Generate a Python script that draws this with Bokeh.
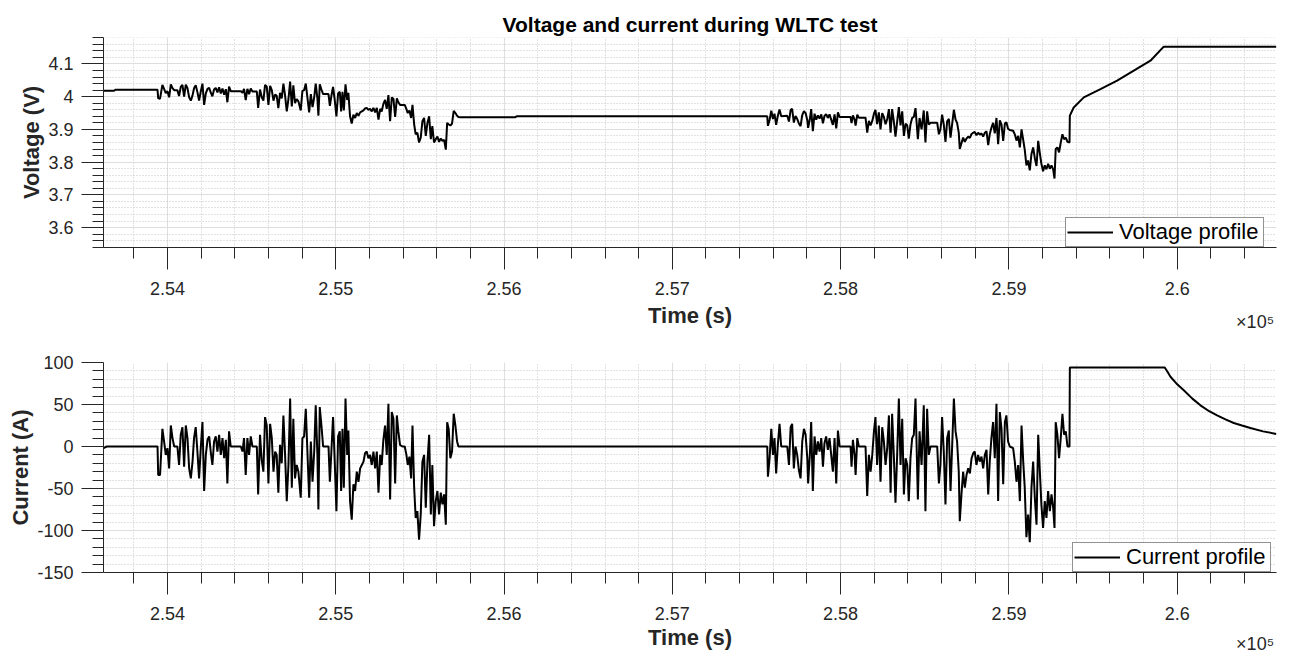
from bokeh.plotting import figure
from bokeh.models import Range1d, FixedTicker, Legend, LegendItem, LinearAxis
from bokeh.layouts import column
from bokeh.embed import file_html
from bokeh.resources import INLINE

# ---------------- data ----------------
TIME_S = [
    253620, 253640, 253683, 253690, 253941, 253945, 253956, 253970, 253980, 253990,
    254000, 254010, 254020, 254030, 254040, 254059, 254069, 254079, 254089, 254099,
    254109, 254119, 254129, 254139, 254149, 254158, 254168, 254178, 254188, 254198,
    254208, 254218, 254228, 254238, 254248, 254257, 254267, 254277, 254287, 254297,
    254307, 254317, 254327, 254337, 254347, 254356, 254366, 254376, 254436, 254446,
    254455, 254465, 254475, 254485, 254495, 254505, 254531, 254539, 254550, 254560,
    254570, 254580, 254590, 254600, 254610, 254620, 254630, 254640, 254649, 254659,
    254669, 254679, 254689, 254699, 254709, 254719, 254729, 254739, 254748, 254758,
    254768, 254778, 254792, 254802, 254812, 254822, 254842, 254852, 254862, 254872,
    254881, 254891, 254897, 254905, 254915, 254925, 254957, 254965, 254974, 254984,
    254994, 255004, 255014, 255024, 255032, 255040, 255048, 255058, 255068, 255075,
    255085, 255095, 255105, 255115, 255125, 255135, 255145, 255155, 255165, 255174,
    255184, 255194, 255204, 255214, 255224, 255234, 255244, 255254, 255264, 255273,
    255283, 255293, 255303, 255313, 255323, 255333, 255343, 255353, 255363, 255372,
    255382, 255396, 255410, 255420, 255428, 255438, 255448, 255456, 255466, 255475,
    255485, 255495, 255505, 255515, 255525, 255535, 255545, 255555, 255565, 255574,
    255584, 255594, 255604, 255614, 255624, 255634, 255644, 255654, 255662, 255671,
    255681, 255691, 255701, 255711, 255721, 255729, 255740, 256065, 256075, 257564,
    257568, 257578, 257588, 257598, 257607, 257617, 257627, 257637, 257647, 257683,
    257693, 257703, 257712, 257722, 257732, 257742, 257752, 257762, 257772, 257782,
    257792, 257802, 257807, 257817, 257825, 257835, 257845, 257855, 257865, 257875,
    257885, 257895, 257904, 257914, 257924, 257934, 257944, 257954, 257964, 257974,
    257984, 257994, 258059, 258065, 258073, 258083, 258089, 258099, 258108, 258148,
    258158, 258168, 258178, 258188, 258198, 258207, 258217, 258227, 258237, 258247,
    258257, 258267, 258277, 258287, 258297, 258306, 258316, 258326, 258336, 258346,
    258356, 258366, 258376, 258386, 258396, 258405, 258415, 258425, 258435, 258445,
    258459, 258469, 258481, 258494, 258504, 258514, 258524, 258534, 258574, 258584,
    258593, 258603, 258613, 258623, 258633, 258643, 258653, 258663, 258673, 258683,
    258692, 258702, 258708, 258718, 258728, 258738, 258748, 258758, 258768, 258778,
    258788, 258797, 258807, 258817, 258827, 258837, 258847, 258857, 258867, 258877,
    258886, 258896, 258906, 258916, 258926, 258936, 258946, 258956, 258966, 258976,
    258985, 258995, 259005, 259025, 259035, 259045, 259055, 259065, 259075, 259085,
    259094, 259104, 259114, 259124, 259134, 259144, 259154, 259164, 259174, 259183,
    259193, 259203, 259213, 259223, 259233, 259243, 259253, 259263, 259271, 259278,
    259288, 259298, 259308, 259318, 259328, 259338, 259348, 259360, 259362, 259385,
    259445, 259544, 259643, 259742, 259841, 259920, 259926, 259945, 259960, 260000,
    260039, 260090, 260138, 260190, 260237, 260290, 260336, 260385, 260435, 260510, 260589,
]

CURRENT_A = [
    -2, 0, 0, 0, 0, -34, -34, 21, 6, -10,
    -2, -26, 25, 10, 0, 0, -22, 14, 23, -24,
    25, 10, -26, -38, -18, 10, 23, -6, -38, -2,
    29, -53, -10, 8, 12, -6, -22, 6, 12, -6,
    14, -10, 10, -14, 8, -44, 18, 0, 0, -6,
    10, -34, 10, -10, 12, 0, 0, -57, 14, -16,
    -30, 35, 25, -44, 27, 10, -30, -6, -10, -55,
    2, -20, 37, -10, -65, -22, 57, -49, 33, -38,
    -22, -30, -61, 10, 12, 45, -61, 6, -42, -6,
    49, -10, -75, 47, 25, 0, 0, -42, -6, 35,
    -18, -77, 12, 18, -53, 21, -49, 57, -10, 19,
    -65, -87, -45, -53, -30, -42, -26, -22, -18, -8,
    -6, -14, -10, -22, -6, -26, -6, -55, -10, -22,
    8, 25, -10, 51, -63, 41, 33, -44, 37, 18,
    2, 0, 0, -10, -22, -12, -38, 25, -49, -85,
    -77, -111, -81, -18, -10, -73, -18, 14, -81, -22,
    -95, -65, -53, -81, -55, -69, -57, -93, 29, 21,
    -14, -6, 39, 25, 6, 0, 0, 0, 0, 0,
    -36, -14, 21, -10, 10, -32, 2, 27, 0, 0,
    -22, 23, 27, -26, 0, -10, -28, -38, 6, 21,
    14, -14, -44, -10, 29, -53, 12, -10, 6, -6,
    10, -24, 4, 12, -4, 10, -10, -30, 10, -44,
    19, 0, 0, -24, 8, -10, -34, 10, 0, 0,
    -59, -10, -30, -10, 18, 35, -22, 25, -42, 23,
    6, -22, -2, 37, -55, 39, -10, -67, -10, 57,
    -22, 33, -57, -14, -22, -65, -14, 10, 14, 57,
    -63, 18, -22, 49, -77, 45, -10, 0, 0, -44,
    -22, 35, -6, -69, 10, 19, -53, 2, 57, 18,
    6, -30, -89, -57, -30, -49, -34, -26, -32, -14,
    -8, -6, -22, -10, -18, -12, -26, -10, -4, -57,
    -18, 10, 29, -14, 51, -65, 41, 21, -45, 29,
    37, 6, 0, -2, -18, -42, -22, -65, 25, -18,
    -49, -108, -81, -114, -49, -18, -61, -93, 14, -26,
    -69, -97, -65, -85, -53, -77, -57, -73, -97, 29,
    14, -14, 10, 39, 14, 18, 0, 0, 94, 94,
    94, 94, 94, 94, 94, 94, 94, 88, 83, 74,
    67, 57, 49, 42, 37, 32, 28, 25, 22, 18, 15,
]

VOLTAGE_V = [
    4.018, 4.018, 4.018, 4.021, 4.021, 3.995, 3.994, 4.036, 4.024, 4.011,
    4.017, 3.998, 4.038, 4.026, 4.020, 4.020, 4.002, 4.030, 4.036, 4.000,
    4.037, 4.026, 3.998, 3.988, 4.004, 4.026, 4.035, 4.014, 3.988, 4.016,
    4.040, 3.975, 4.010, 4.024, 4.027, 4.013, 4.001, 4.022, 4.027, 4.013,
    4.029, 4.010, 4.025, 4.006, 4.023, 3.983, 4.031, 4.017, 4.017, 4.012,
    4.024, 3.990, 4.024, 4.008, 4.025, 4.016, 4.016, 3.966, 4.022, 3.999,
    3.988, 4.036, 4.031, 3.975, 4.033, 4.020, 3.988, 4.007, 4.003, 3.965,
    4.012, 3.995, 4.040, 4.003, 3.955, 3.993, 4.046, 3.970, 4.035, 3.980,
    3.993, 3.986, 3.958, 4.018, 4.020, 4.040, 3.952, 4.008, 3.968, 3.998,
    4.040, 3.995, 3.942, 4.038, 4.022, 4.008, 4.008, 3.972, 4.002, 4.030,
    3.990, 3.940, 4.010, 4.015, 3.955, 4.015, 3.958, 4.038, 3.990, 4.012,
    3.940, 3.918, 3.945, 3.935, 3.950, 3.942, 3.952, 3.955, 3.958, 3.964,
    3.966, 3.960, 3.963, 3.955, 3.966, 3.952, 3.966, 3.930, 3.963, 3.955,
    3.978, 3.990, 3.963, 4.005, 3.925, 3.998, 3.993, 3.938, 3.995, 3.983,
    3.975, 3.975, 3.975, 3.962, 3.950, 3.958, 3.935, 3.975, 3.915, 3.885,
    3.890, 3.860, 3.875, 3.925, 3.935, 3.880, 3.920, 3.940, 3.870, 3.910,
    3.860, 3.870, 3.878, 3.862, 3.872, 3.865, 3.868, 3.838, 3.920, 3.915,
    3.912, 3.918, 3.957, 3.950, 3.942, 3.938, 3.937, 3.937, 3.940, 3.940,
    3.911, 3.929, 3.957, 3.932, 3.948, 3.914, 3.942, 3.961, 3.940, 3.942,
    3.924, 3.960, 3.963, 3.921, 3.941, 3.932, 3.918, 3.910, 3.944, 3.956,
    3.950, 3.928, 3.905, 3.931, 3.962, 3.895, 3.948, 3.930, 3.943, 3.933,
    3.946, 3.919, 3.941, 3.947, 3.935, 3.946, 3.930, 3.914, 3.946, 3.903,
    3.952, 3.938, 3.938, 3.919, 3.943, 3.930, 3.912, 3.945, 3.936, 3.936,
    3.890, 3.926, 3.912, 3.926, 3.948, 3.960, 3.916, 3.952, 3.900, 3.950,
    3.938, 3.916, 3.932, 3.962, 3.890, 3.962, 3.925, 3.878, 3.924, 3.968,
    3.912, 3.955, 3.880, 3.918, 3.912, 3.872, 3.915, 3.935, 3.938, 3.965,
    3.870, 3.935, 3.900, 3.958, 3.860, 3.955, 3.915, 3.920, 3.920, 3.885,
    3.900, 3.945, 3.915, 3.862, 3.925, 3.932, 3.875, 3.918, 3.960, 3.930,
    3.920, 3.890, 3.840, 3.858, 3.875, 3.862, 3.872, 3.878, 3.874, 3.886,
    3.890, 3.892, 3.882, 3.890, 3.884, 3.888, 3.878, 3.890, 3.894, 3.852,
    3.885, 3.905, 3.920, 3.888, 3.935, 3.855, 3.928, 3.915, 3.865, 3.918,
    3.922, 3.902, 3.898, 3.896, 3.885, 3.866, 3.880, 3.845, 3.900, 3.868,
    3.838, 3.790, 3.805, 3.775, 3.825, 3.845, 3.812, 3.788, 3.865, 3.830,
    3.795, 3.772, 3.790, 3.778, 3.795, 3.780, 3.790, 3.778, 3.750, 3.840,
    3.845, 3.830, 3.860, 3.885, 3.870, 3.875, 3.862, 3.860, 3.942, 3.967,
    3.998, 4.023, 4.049, 4.080, 4.110, 4.153, 4.153, 4.153, 4.153, 4.153,
    4.153, 4.153, 4.153, 4.153, 4.153, 4.153, 4.153, 4.153, 4.153, 4.153, 4.153,
]

X_MAJOR = [254000, 255000, 256000, 257000, 258000, 259000, 260000]
X_LABELS = ["2.54", "2.55", "2.56", "2.57", "2.58", "2.59", "2.6"]
V_MAJOR = [3.6, 3.7, 3.8, 3.9, 4.0, 4.1]
V_LABELS = ["3.6", "3.7", "3.8", "3.9", "4", "4.1"]
I_MAJOR = [-150, -100, -50, 0, 50, 100]
I_LABELS = ["-150", "-100", "-50", "0", "50", "100"]

TITLE = "Voltage and current during WLTC test"
X_EXPONENT = "\u00d710\u2075"

# ---------------- styling ----------------
FONT = "Liberation Sans"
AX = "#262626"
X_START, X_END = 253620, 260590
W = 1290
BORDER_L, BORDER_R = 103, 14
EXP_PAD = 226  # non-breaking spaces that push the centred exponent to the right end

x_minor = [t for t in range(253600, 260601, 200) if t not in X_MAJOR]
v_minor = [round(3.54 + 0.02 * k, 2) for k in range(33)]
v_minor = [v for v in v_minor if all(abs(v - m) > 1e-6 for m in V_MAJOR)]
i_minor = [v for v in range(-150, 101, 10) if v not in I_MAJOR]


def make_fig(height, btop, bbottom, y0, y1, ymaj, ylab, ymin, ylabel, xlabel_standoff,
             title=None):
    p = figure(width=W, height=height, output_backend="svg", toolbar_location=None,
               x_range=Range1d(X_START, X_END), y_range=Range1d(y0, y1),
               min_border_left=BORDER_L, min_border_right=BORDER_R,
               min_border_top=btop, min_border_bottom=bbottom,
               title=title)
    p.outline_line_color = None
    p.background_fill_color = "white"
    p.border_fill_color = "white"

    p.xaxis.ticker = FixedTicker(ticks=X_MAJOR, minor_ticks=x_minor)
    p.xaxis.major_label_overrides = {float(k): v for k, v in zip(X_MAJOR, X_LABELS)}
    p.yaxis.ticker = FixedTicker(ticks=ymaj, minor_ticks=ymin)
    p.yaxis.major_label_overrides = {float(k): v for k, v in zip(ymaj, ylab)}
    p.xgrid.ticker = p.xaxis.ticker
    p.ygrid.ticker = p.yaxis.ticker

    for ax in (p.xaxis[0], p.yaxis[0]):
        ax.axis_line_color = AX
        ax.axis_line_width = 1
        ax.major_tick_line_color = AX
        ax.minor_tick_line_color = AX
        ax.major_tick_in = 0
        ax.minor_tick_in = 0
        ax.major_tick_out = 22
        ax.minor_tick_out = 11
        ax.major_label_text_font = FONT
        ax.major_label_text_font_size = "18px"
        ax.major_label_text_color = AX
        ax.axis_label_text_font = FONT
        ax.axis_label_text_font_size = "22px"
        ax.axis_label_text_font_style = "bold"
        ax.axis_label_text_color = AX
    p.xaxis.major_label_standoff = 12
    p.yaxis.major_label_standoff = 8
    p.xaxis.axis_label_standoff = xlabel_standoff
    p.yaxis.axis_label_standoff = 1
    p.xaxis.axis_label = "Time (s)"
    p.yaxis.axis_label = ylabel

    for g in (p.xgrid[0], p.ygrid[0]):
        g.grid_line_color = "#dedede"
        g.grid_line_width = 1
        g.minor_grid_line_color = "#c4c4c4"
        g.minor_grid_line_dash = "1 2"
        g.minor_grid_line_width = 1

    if title is not None:
        p.title.text_font = FONT
        p.title.text_font_size = "21px"
        p.title.text_font_style = "bold"
        p.title.text_color = "black"
        p.title.align = "center"
        p.title.standoff = 4

    # exponent of the time axis ("x10^5"): label of a bare extra axis, pulled up
    # into the row of "Time (s)" and pushed right with non-breaking spaces
    ex = LinearAxis(ticker=FixedTicker(ticks=[]),
                    axis_label="\u00a0" * EXP_PAD + X_EXPONENT)
    ex.axis_line_color = None
    ex.major_tick_line_color = None
    ex.minor_tick_line_color = None
    ex.major_tick_out = 0
    ex.minor_tick_out = 0
    ex.major_label_standoff = 0
    ex.axis_label_standoff = -19
    ex.axis_label_text_font = FONT
    ex.axis_label_text_font_size = "18px"
    ex.axis_label_text_font_style = "normal"
    ex.axis_label_text_color = AX
    p.add_layout(ex, "below")
    return p


def add_legend(p, renderer, label, loc):
    leg = Legend(items=[LegendItem(label=label, renderers=[renderer])], location=loc)
    leg.margin = 0
    leg.padding = 1
    leg.spacing = 0
    leg.glyph_width = 46
    leg.glyph_height = 20
    leg.label_standoff = 6
    leg.label_width = 143
    leg.label_height = 22
    leg.label_text_font = FONT
    leg.label_text_font_size = "22px"
    leg.label_text_color = "black"
    leg.border_line_color = AX
    leg.border_line_width = 1
    leg.background_fill_color = "white"
    leg.background_fill_alpha = 1
    p.add_layout(leg)


# top: voltage (frame 37..247)
p1 = make_fig(335, 37, 88, 3.539, 4.181, V_MAJOR, V_LABELS, v_minor, "Voltage (V)", 5, TITLE)
r1 = p1.line(TIME_S, VOLTAGE_V, line_color="black", line_width=2)
add_legend(p1, r1, "Voltage profile", (962, 0))

# bottom: current (frame 362..573)
p2 = make_fig(321, 27, 83, -150, 100, I_MAJOR, I_LABELS, i_minor, "Current (A)", 2)
r2 = p2.line(TIME_S, CURRENT_A, line_color="black", line_width=2)
add_legend(p2, r2, "Current profile", (969, 0))

layout = column(p1, p2, spacing=0)
open("out.html", "w").write(file_html(layout, INLINE))
